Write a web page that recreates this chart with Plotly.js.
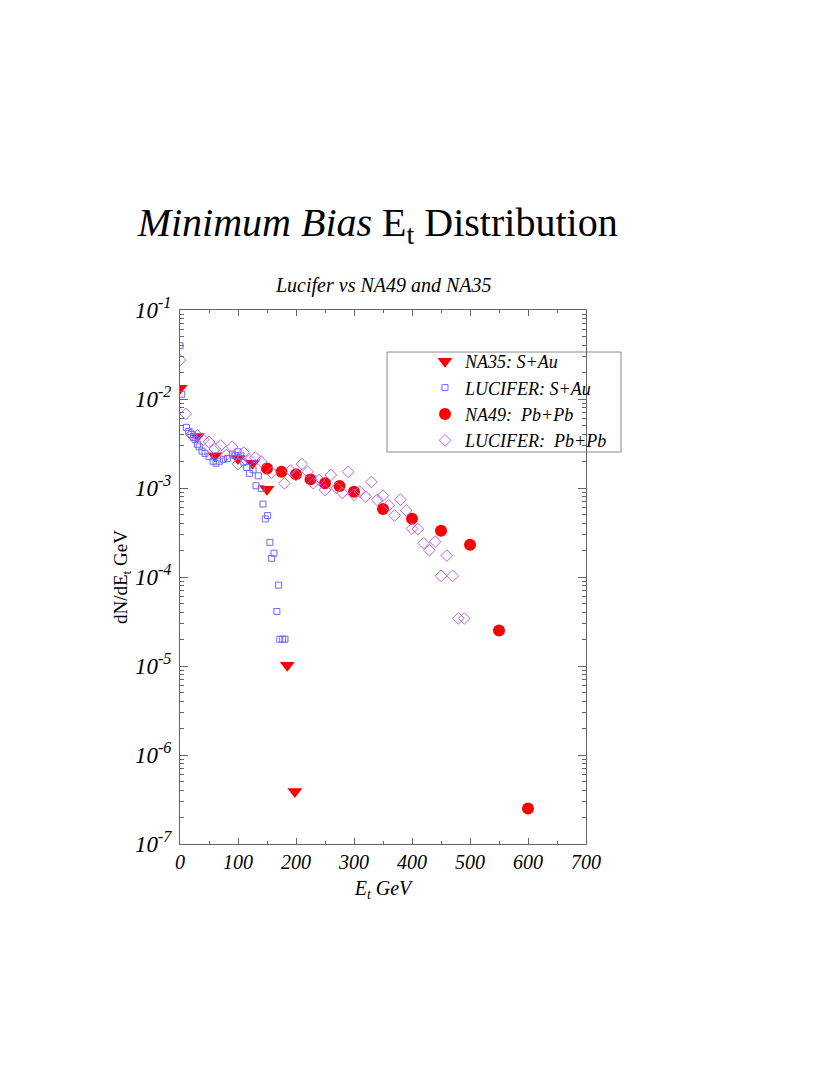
<!DOCTYPE html>
<html>
<head>
<meta charset="utf-8">
<script src="https://cdn.plot.ly/plotly-3.0.1.min.js"></script>
<style>html,body{margin:0;padding:0;background:#fff;}</style>
</head>
<body>
<div id="chart"></div>
<script>
// NA35: S+Au
const na35X = [0, 30, 60, 100, 125, 150, 185, 198];
const na35Y = [0.0132, 0.0038, 0.0023, 0.00215, 0.0019, 0.00097, 0.0000102, 0.00000039];

// LUCIFER: S+Au
const lucSX = [0, 3, 11, 15, 19, 23, 26, 30, 33, 38, 43, 50, 57, 62, 68, 75, 82, 90, 95, 100, 105, 110, 115, 120, 126, 131, 135, 140, 143, 147, 151, 155, 158, 162, 167, 170, 172, 177, 181];
const lucSY = [0.0397, 0.0113, 0.0048, 0.0043, 0.0040, 0.0037, 0.0035, 0.0031, 0.0029, 0.0026, 0.00245, 0.00225, 0.0020, 0.0019, 0.0020, 0.0021, 0.00215, 0.0024, 0.0023, 0.00255, 0.0023, 0.00195, 0.0017, 0.00146, 0.0016, 0.00106, 0.00137, 0.00099, 0.00066, 0.00045, 0.00049, 0.000245, 0.000162, 0.000185, 0.000041, 0.000081, 0.00002, 0.00002, 0.00002];

// NA49: Pb+Pb
const na49X = [150, 175, 200, 225, 250, 275, 300, 350, 400, 450, 500, 550, 600];
const na49Y = [0.00166, 0.00152, 0.00143, 0.00125, 0.00113, 0.00105, 0.00091, 0.00058, 0.00045, 0.00033, 0.00023, 0.000025, 0.00000025];

// LUCIFER: Pb+Pb
const lucPX = [0, 10, 20, 30, 40, 50, 60, 70, 80, 90, 100, 110, 120, 130, 140, 158, 180, 190, 200, 210, 220, 230, 240, 250, 260, 270, 280, 290, 300, 310, 320, 330, 340, 350, 360, 370, 380, 390, 400, 410, 420, 430, 440, 450, 460, 470, 480, 490];
const lucPY = [0.0274, 0.0068, 0.0040, 0.0039, 0.0035, 0.0033, 0.00275, 0.0030, 0.00235, 0.0029, 0.00186, 0.0025, 0.00207, 0.0022, 0.00198, 0.00148, 0.00113, 0.00157, 0.0014, 0.00186, 0.00152, 0.00113, 0.00123, 0.00095, 0.0014, 0.0010, 0.00088, 0.00152, 0.00084, 0.00091, 0.0008, 0.00117, 0.000735, 0.00082, 0.00064, 0.00049, 0.00074, 0.00056, 0.00035, 0.000345, 0.00024, 0.0002, 0.00025, 0.000103, 0.000174, 0.000103, 0.0000343, 0.0000343];

const yTickVals = [1e-7, 1e-6, 1e-5, 1e-4, 1e-3, 1e-2, 1e-1];
const yTickText = ['10<sup>-7</sup>', '10<sup>-6</sup>', '10<sup>-5</sup>', '10<sup>-4</sup>', '10<sup>-3</sup>', '10<sup>-2</sup>', '10<sup>-1</sup>'];
const xTickVals = [0, 100, 200, 300, 400, 500, 600, 700];

const FAM = 'Liberation Serif';

const yMinor = [];
for (let e = -7; e < -1; e++) {
  for (let m = 2; m <= 9; m++) yMinor.push(m * Math.pow(10, e));
}

const traces = [
  {x: na35X, y: na35Y, name: '<i>NA35: S+Au</i>', mode: 'markers', type: 'scatter',
   marker: {symbol: 'triangle-down', color: '#ff0000', size: 13}},
  {x: lucSX, y: lucSY, name: '<i>LUCIFER: S+Au</i>', mode: 'markers', type: 'scatter',
   marker: {symbol: 'square-open', color: 'rgb(105,105,255)', size: 6, line: {width: 1}}},
  {x: na49X, y: na49Y, name: '<i>NA49:&nbsp; Pb+Pb</i>', mode: 'markers', type: 'scatter',
   marker: {symbol: 'circle', color: '#ff0000', size: 12}},
  {x: lucPX, y: lucPY, name: '<i>LUCIFER:&nbsp; Pb+Pb</i>', mode: 'markers', type: 'scatter',
   marker: {symbol: 'diamond-open', color: 'rgb(180,100,240)', size: 9, line: {width: 1}}}
];

const axisCommon = {
  showline: true, linecolor: '#666', linewidth: 1, mirror: 'ticks',
  ticks: 'inside', tickcolor: '#666', showgrid: false, zeroline: false,
  tickfont: {family: FAM, size: 20, color: '#000'}
};

const layout = {
  width: 830, height: 1075,
  paper_bgcolor: '#fff', plot_bgcolor: '#fff',
  margin: {l: 180, r: 244, t: 310, b: 231},
  showlegend: true,
  title: {
    text: '<i>Minimum Bias</i> E<sub>t</sub> Distribution',
    font: {family: FAM, size: 40, color: '#000'},
    xref: 'container', yref: 'container', x: 0.455, y: 1 - 222 / 1075,
    xanchor: 'center', yanchor: 'middle'
  },
  xaxis: Object.assign({}, axisCommon, {
    range: [0, 700], tickvals: xTickVals, ticktext: xTickVals.map(v => '<i>' + v + '</i>'), ticklen: 6,
    minor: {tickvals: [50, 150, 250, 350, 450, 550, 650], ticklen: 3, ticks: 'inside', tickcolor: '#666'},
    title: {text: '<i>E<sub>t</sub> GeV</i>', font: {family: FAM, size: 20, color: '#000'}, standoff: 8}
  }),
  yaxis: Object.assign({}, axisCommon, {
    type: 'log', range: [-7, -1], tickvals: yTickVals, ticktext: yTickText.map(t => '<i>' + t + '</i>'), ticklen: 8,
    tickfont: {family: FAM, size: 23, color: '#000'}, ticklabelstandoff: 3,
    minor: {tickvals: yMinor, ticklen: 4, ticks: 'inside', tickcolor: '#666'},
    title: {text: 'dN/dE<sub>t</sub> GeV', font: {family: FAM, size: 19, color: '#000'}, standoff: 2}
  }),
  legend: {
    x: (425 - 180) / 406, y: (844 - 343) / 534, xanchor: 'left', yanchor: 'top',
    bgcolor: 'rgba(0,0,0,0)', borderwidth: 0,
    font: {family: FAM, size: 18, color: '#000'},
    itemwidth: 30, tracegroupgap: 0
  },
  shapes: [{
    type: 'rect', xref: 'paper', yref: 'paper',
    x0: (387 - 180) / 406, x1: (621 - 180) / 406,
    y0: (844 - 452) / 534, y1: (844 - 352) / 534,
    line: {color: '#888', width: 1}, fillcolor: 'rgba(255,255,255,1)', layer: 'below'
  }],
  annotations: [{
    text: '<i>Lucifer vs NA49 and NA35</i>', xref: 'paper', yref: 'paper',
    x: 0.5, y: (844 - 286) / 534, xanchor: 'center', yanchor: 'middle', showarrow: false,
    font: {family: FAM, size: 20, color: '#000'}
  }]
};

Plotly.newPlot('chart', traces, layout, {displayModeBar: false});
</script>
</body>
</html>
